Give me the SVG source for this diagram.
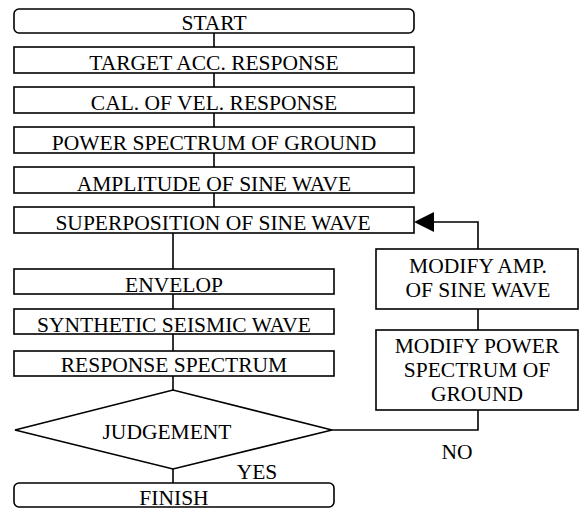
<svg xmlns="http://www.w3.org/2000/svg" width="580" height="511" viewBox="0 0 580 511">
<defs>
<style>
.b{fill:#fff;stroke:#000;stroke-width:1.6}
.t{font-family:"Liberation Serif","Times New Roman",serif;font-size:21.5px;fill:#000;text-anchor:middle}
.c{fill:none;stroke:#000;stroke-width:1.6}
</style>
</defs>
<rect width="580" height="511" fill="#fff"/>
<g id="connectors">
<line class="c" x1="214" y1="33" x2="214" y2="47"/>
<line class="c" x1="214" y1="73" x2="214" y2="87"/>
<line class="c" x1="214" y1="113" x2="214" y2="127"/>
<line class="c" x1="214" y1="153" x2="214" y2="167"/>
<line class="c" x1="214" y1="193" x2="214" y2="207"/>
<line class="c" x1="173" y1="233" x2="173" y2="269"/>
<line class="c" x1="173" y1="294" x2="173" y2="309"/>
<line class="c" x1="173" y1="334" x2="173" y2="351"/>
<line class="c" x1="173" y1="376" x2="173" y2="390"/>
<line class="c" x1="173" y1="469" x2="173" y2="483"/>
<polyline class="c" points="332,430 478,430 478,410"/>
<line class="c" x1="478" y1="330" x2="478" y2="309"/>
<polyline class="c" points="478,249 478,222 432,222"/>
<polygon points="414,222 434,212 434,232" fill="#000"/>
<text class="t" x="257" y="479">YES</text>
<text class="t" x="457" y="459">NO</text>
</g>
<g id="start"><rect class="b" x="14" y="9" width="400" height="24" rx="5"/><text class="t" x="214" y="30">START</text></g>
<g id="target"><rect class="b" x="14" y="47" width="400" height="26"/><text class="t" x="214" y="70">TARGET ACC. RESPONSE</text></g>
<g id="cal"><rect class="b" x="14" y="87" width="400" height="26"/><text class="t" x="214" y="110">CAL. OF VEL. RESPONSE</text></g>
<g id="power"><rect class="b" x="14" y="127" width="400" height="26"/><text class="t" x="214" y="150">POWER SPECTRUM OF GROUND</text></g>
<g id="amplitude"><rect class="b" x="14" y="167" width="400" height="26"/><text class="t" x="214" y="191">AMPLITUDE OF SINE WAVE</text></g>
<g id="superposition"><rect class="b" x="14" y="207" width="400" height="26"/><text class="t" x="213" y="230">SUPERPOSITION OF SINE WAVE</text></g>
<g id="envelop"><rect class="b" x="14" y="269" width="320" height="25"/><text class="t" x="174" y="292">ENVELOP</text></g>
<g id="synthetic"><rect class="b" x="14" y="309" width="320" height="25"/><text class="t" x="174" y="332">SYNTHETIC SEISMIC WAVE</text></g>
<g id="response"><rect class="b" x="14" y="351" width="320" height="25"/><text class="t" x="174" y="372">RESPONSE SPECTRUM</text></g>
<g id="judgement"><polygon class="b" points="15,430 173,390 332,430 173,469"/><text class="t" x="167" y="439">JUDGEMENT</text></g>
<g id="finish"><rect class="b" x="14" y="483" width="320" height="24" rx="5"/><text class="t" x="174" y="505">FINISH</text></g>
<g id="modify-amp"><rect class="b" x="376" y="249" width="202" height="60"/><text class="t" x="478" y="273">MODIFY AMP.</text><text class="t" x="478" y="297">OF SINE WAVE</text></g>
<g id="modify-power"><rect class="b" x="376" y="330" width="202" height="80"/><text class="t" x="477" y="353">MODIFY POWER</text><text class="t" x="477" y="377">SPECTRUM OF</text><text class="t" x="477" y="401">GROUND</text></g>
</svg>
